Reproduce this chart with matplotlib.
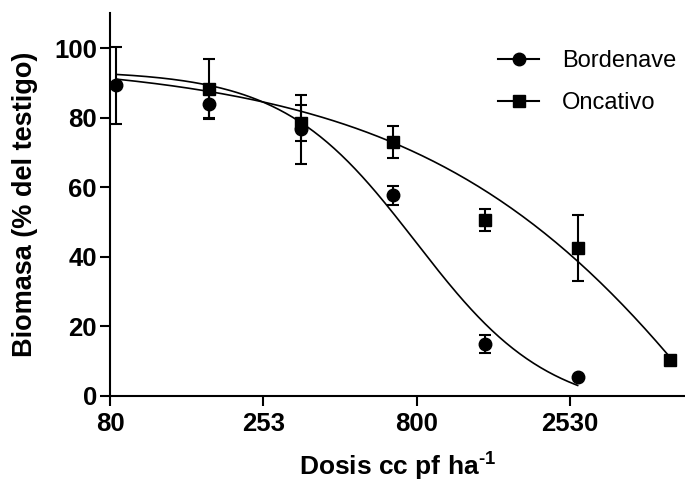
import numpy as np
import matplotlib
matplotlib.use("Agg")
import matplotlib.pyplot as plt
from matplotlib.lines import Line2D

plt.rcParams['font.family'] = 'Liberation Sans'
plt.rcParams['mathtext.fontset'] = 'custom'
plt.rcParams['mathtext.rm'] = 'Liberation Sans:bold'
plt.rcParams['mathtext.bf'] = 'Liberation Sans:bold'
plt.rcParams['mathtext.default'] = 'bf'

# data
dosis = [84, 168, 335, 670, 1340, 2680, 5360]
bordenave = [89.3, 84.0, 76.6, 57.7, 14.9, 5.4, np.nan]
bordenave_err = [11.0, 4.4, 10.0, 2.7, 2.7, 0.0, np.nan]
oncativo = [np.nan, 88.3, 78.5, 73.0, 50.6, 42.5, 10.4]
oncativo_err = [np.nan, 8.5, 5.2, 4.6, 3.2, 9.6, 0.0]

# fitted dose-response curves (top, bottom, log EC50, hill), as drawn
fit_bordenave = (93.5, -5.0, 2.90, 2.0)
fit_oncativo = (96.5, -200.0, 4.26, 0.74)

xticks = [80, 253, 800, 2530]
yticks = [0, 20, 40, 60, 80, 100]


def curve(x, top, bottom, logec50, hill):
    return bottom + (top - bottom) / (1 + 10 ** ((np.log10(x) - logec50) * hill))


fig = plt.figure(figsize=(6.85, 4.82), dpi=100)
ax = fig.add_axes([110 / 685, 1 - 395.7 / 482, 575 / 685, 382.4 / 482])
ax.set_xscale('log')

xb = np.logspace(np.log10(dosis[0]), np.log10(dosis[5]), 200)
xo = np.logspace(np.log10(dosis[0]), np.log10(dosis[6]), 200)
ax.plot(xb, curve(xb, *fit_bordenave), color='black', lw=1.2, zorder=2)
ax.plot(xo, curve(xo, *fit_oncativo), color='black', lw=1.2, zorder=2)

ax.errorbar(dosis, oncativo, yerr=oncativo_err, fmt='s', color='black', ms=9,
            elinewidth=1.5, capsize=4, capthick=1.5, zorder=3)
ax.errorbar(dosis, bordenave, yerr=bordenave_err, fmt='o', color='black', ms=9,
            elinewidth=1.5, capsize=4, capthick=1.5, zorder=4)

ax.set_xlim(80, 6000)
ax.set_ylim(0, 110)
ax.set_xticks(xticks)
ax.set_xticklabels([str(t) for t in xticks])
ax.xaxis.set_minor_locator(matplotlib.ticker.NullLocator())
ax.set_yticks(yticks)

for s in ['top', 'right']:
    ax.spines[s].set_visible(False)
for s in ['left', 'bottom']:
    ax.spines[s].set_linewidth(1.5)
ax.tick_params(axis='both', length=7.5, width=1.5, labelsize=18.5)
ax.tick_params(axis='y', pad=2)
ax.tick_params(axis='x', pad=4)
for lab in ax.get_xticklabels() + ax.get_yticklabels():
    lab.set_fontweight('bold')

ax.set_ylabel('Biomasa (% del testigo)', fontsize=19.5, fontweight='bold')
ax.set_xlabel(r'Dosis cc pf ha$^{\text{-}1}$', fontsize=19, fontweight='bold')
ax.yaxis.set_label_coords(-0.125, 0.5)
ax.xaxis.set_label_coords(0.5, -0.145)

handles = [Line2D([], [], color='black', marker='o', ms=9, lw=1.5),
           Line2D([], [], color='black', marker='s', ms=9, lw=1.5)]
fig.legend(handles, ['Bordenave', 'Oncativo'], loc='upper left',
           bbox_to_anchor=(498 / 685, 1 - 50 / 482), frameon=False,
           fontsize=17, borderpad=0, borderaxespad=0, handlelength=1.75,
           handletextpad=0.95, labelspacing=0.86)

fig.savefig('out.png', dpi=100)
